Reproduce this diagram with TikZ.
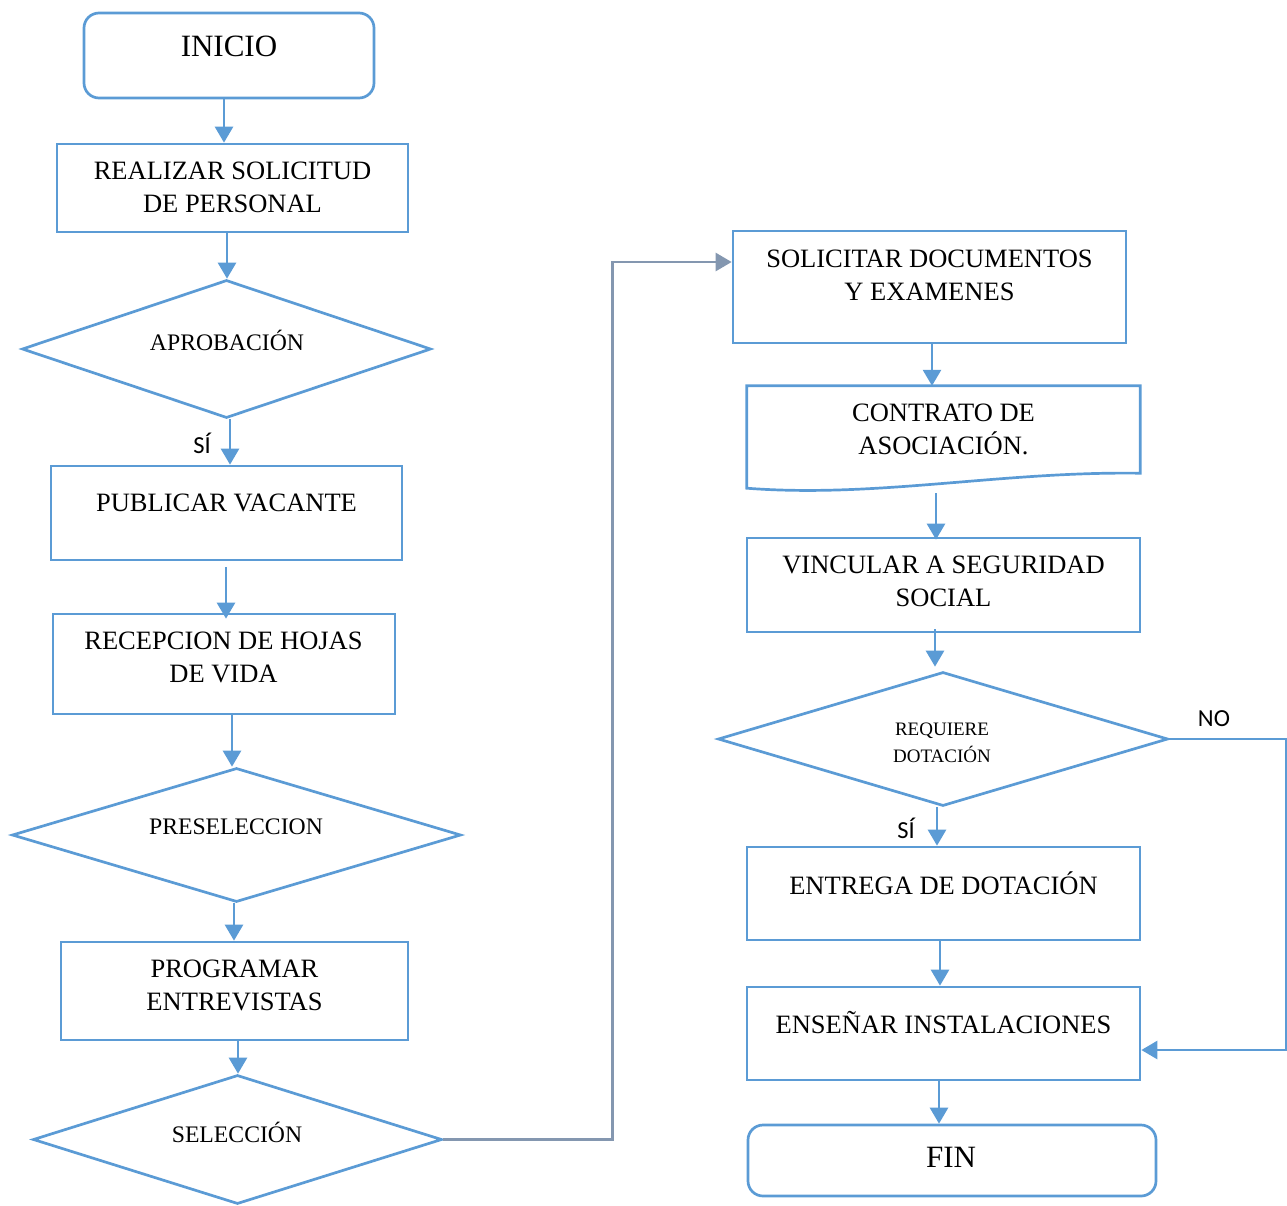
\documentclass[tikz,border=0pt]{standalone}
\usepackage{fontspec}
\setmainfont{Liberation Serif}
\newfontfamily\labelfont{Carlito}
\usetikzlibrary{shapes.geometric,arrows.meta}
\definecolor{flowblue}{HTML}{5B9BD5}
\definecolor{linkgrey}{HTML}{8497B0}

\begin{document}
\begin{tikzpicture}[x=1pt,y=-1pt,
  stepbox/.style={draw=flowblue,line width=2.7pt,rectangle,inner sep=0pt},
  termbox/.style={stepbox,rounded corners=15pt},
  decision/.style={draw=flowblue,line width=2.7pt,diamond,inner sep=0pt},
  hidden/.style={rectangle,inner sep=0pt},
  maintxt/.style={font=\fontsize{26.5}{33}\selectfont,align=center,inner sep=0pt,text=black},
  bigtxt/.style={font=\fontsize{31}{36}\selectfont,align=center,inner sep=0pt,text=black},
  dectxt/.style={font=\fontsize{23.7}{28}\selectfont,align=center,inner sep=0pt,text=black},
  smalltxt/.style={font=\fontsize{19}{27}\selectfont,align=center,inner sep=0pt,text=black},
  lbl/.style={font=\labelfont\fontsize{24.5}{27}\selectfont,inner sep=0pt,text=black},
  arr/.style={draw=flowblue,line width=2.7pt,-{Triangle[length=16pt,width=18pt]}},
  greyarr/.style={draw=linkgrey,line width=2.7pt,-{Triangle[length=16pt,width=18pt]}}
]
\useasboundingbox (0,0) rectangle (1287,1205);

% left column
\node[termbox,minimum width=290,minimum height=85] (ini) at (229,55.5) {};
\node[bigtxt] (iniT) at (229,46) {INICIO};

\node[stepbox,minimum width=351,minimum height=88] (rs) at (232.5,188) {};
\node[maintxt] (rsT) at (232.5,187.5) {REALIZAR SOLICITUD\\DE PERSONAL};

\node[decision,minimum width=409,minimum height=138] (apr) at (226.5,349) {};
\node[dectxt] (aprT) at (227,340) {APROBACIÓN};

\node[stepbox,minimum width=351,minimum height=94] (pub) at (226.5,513) {};
\node[maintxt] (pubT) at (226.5,503) {PUBLICAR VACANTE};

\node[stepbox,minimum width=342,minimum height=100] (rec) at (224,664) {};
\node[maintxt] (recT) at (223.5,657.5) {RECEPCION DE HOJAS\\DE VIDA};

\node[decision,minimum width=449,minimum height=134] (pre) at (236.5,835) {};
\node[dectxt] (preT) at (236,827) {PRESELECCION};

\node[stepbox,minimum width=347,minimum height=98] (prog) at (234.5,991) {};
\node[maintxt] (progT) at (234.5,985.5) {PROGRAMAR\\ENTREVISTAS};

\node[decision,minimum width=409,minimum height=129] (sel) at (237.5,1139.5) {};
\node[dectxt] (selT) at (237,1132) {SELECCIÓN};

% right column
\node[stepbox,minimum width=393,minimum height=112] (doc) at (929.5,287) {};
\node[maintxt] (docT) at (929.5,275) {SOLICITAR DOCUMENTOS\\Y EXAMENES};

\node[hidden,minimum width=393,minimum height=104] (con) at (943.5,438) {};
\draw[flowblue,line width=2.7pt,line join=miter]
  ([yshift=2pt]con.south west) -- (con.north west) -- (con.north east)
  -- ([yshift=17pt]con.south east)
  .. controls ([xshift=-140pt,yshift=19pt]con.south east) and ([xshift=130pt,yshift=-8pt]con.south west) ..
  ([yshift=2pt]con.south west) -- cycle;
\node[maintxt] (conT) at (943.5,429.5) {CONTRATO DE\\ASOCIACIÓN.};

\node[stepbox,minimum width=393,minimum height=94] (vin) at (943.5,585) {};
\node[maintxt] (vinT) at (943.5,581.5) {VINCULAR A SEGURIDAD\\SOCIAL};

\node[decision,minimum width=450,minimum height=134] (req) at (943,739) {};
\node[smalltxt] (reqT) at (942,742.5) {REQUIERE\\DOTACIÓN};

\node[stepbox,minimum width=393,minimum height=93] (ent) at (943.5,893.5) {};
\node[maintxt] (entT) at (943.5,883) {ENTREGA DE DOTACIÓN};

\node[stepbox,minimum width=393,minimum height=93] (ens) at (943.5,1033.5) {};
\node[maintxt] (ensT) at (943.5,1023) {ENSEÑAR INSTALACIONES};

\node[termbox,minimum width=408,minimum height=71] (fin) at (952,1160.5) {};
\node[bigtxt] (finT) at (951,1157) {FIN};

% branch labels
\node[lbl] (si1) at (202,443) {SÍ};
\node[lbl] (si2) at (906,828) {SÍ};
\node[lbl] (no) at (1214,719) {NO};

% connectors
\draw[arr] ([xshift=-5pt]ini.south) -- ([xshift=-5pt]ini.south |- rs.north);
\draw[arr] ([xshift=-5.5pt]rs.south) -- ([xshift=-5.5pt]rs.south |- apr.north);
\draw[arr] ([xshift=3.5pt]apr.south) -- ([xshift=3.5pt]apr.south |- pub.north);
\draw[arr] ([xshift=-0.5pt,yshift=-6pt]pub.south) -- ([xshift=-0.5pt,yshift=-6pt]pub.south |- rec.north);
\draw[arr] ([xshift=8pt]rec.south) -- ([xshift=8pt]rec.south |- pre.north);
\draw[arr] ([xshift=-2.5pt]pre.south) -- ([xshift=-2.5pt]pre.south |- prog.north);
\draw[arr] ([xshift=3.5pt]prog.south) -- ([xshift=3.5pt]prog.south |- sel.north);
\draw[greyarr] (sel.east) -- ++(169,0) |- ([yshift=25pt]doc.west);

\draw[arr] ([xshift=2.5pt]doc.south) -- ([xshift=2.5pt]doc.south |- con.north);
\draw[arr] ([xshift=-7.5pt,yshift=-3pt]con.south) -- ([xshift=-7.5pt,yshift=-3pt]con.south |- vin.north);
\draw[arr] ([xshift=-8.5pt,yshift=4pt]vin.south) -- ([xshift=-8.5pt,yshift=4pt]vin.south |- req.north);
\draw[arr] ([xshift=-6pt]req.south) -- ([xshift=-6pt]req.south |- ent.north);
\draw[arr] ([xshift=-3.5pt]ent.south) -- ([xshift=-3.5pt]ent.south |- ens.north);
\draw[arr] ([xshift=-4.5pt]ens.south) -- ([xshift=-4.5pt]ens.south |- fin.north);
\draw[arr] (req.east) -- ++(117,0) |- ([yshift=-16.5pt]ens.east);
\end{tikzpicture}
\end{document}
